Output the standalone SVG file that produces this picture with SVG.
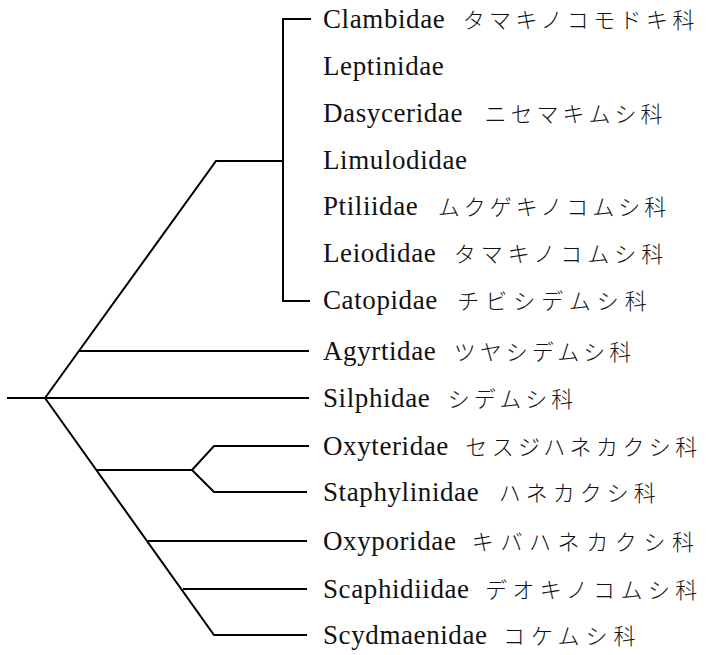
<svg xmlns="http://www.w3.org/2000/svg" width="708" height="655" viewBox="0 0 708 655">
<style>
.c{fill:none;stroke:#000;stroke-width:2;stroke-linejoin:miter}
.t{font-family:"Liberation Serif","Noto Sans CJK JP",serif;font-size:27px;fill:#111;letter-spacing:0.6px}
.j{font-family:"Noto Sans CJK JP",sans-serif;font-size:22px;letter-spacing:4px;font-weight:300}
</style>
<rect width="708" height="655" fill="#fff"/>
<g id="connectors">
<path class="c" d="M7,398 H45"/>
<path class="c" d="M45,398 L216,161 H283"/>
<path class="c" d="M311,19 H283 V301 H310"/>
<path class="c" d="M79,351 H309"/>
<path class="c" d="M45,398 H309"/>
<path class="c" d="M45,398 L214,635 H307"/>
<path class="c" d="M96,470 H192 L214,446 H309"/>
<path class="c" d="M192,470 L214,492 H307"/>
<path class="c" d="M148,541 H307"/>
<path class="c" d="M183,589 H307"/>
</g>
<g id="n-clambidae"><text class="t" x="323" y="28">Clambidae <tspan class="j" dx="10" style="letter-spacing:4.4px">タマキノコモドキ科</tspan></text></g>
<g id="n-leptinidae"><text class="t" x="323" y="75">Leptinidae</text></g>
<g id="n-dasyceridae"><text class="t" x="323" y="122">Dasyceridae <tspan class="j" dx="14">ニセマキムシ科</tspan></text></g>
<g id="n-limulodidae"><text class="t" x="323" y="169">Limulodidae</text></g>
<g id="n-ptiliidae"><text class="t" x="323" y="215">Ptiliidae <tspan class="j" dx="12">ムクゲキノコムシ科</tspan></text></g>
<g id="n-leiodidae"><text class="t" x="323" y="262">Leiodidae <tspan class="j" dx="10" style="letter-spacing:5px">タマキノコムシ科</tspan></text></g>
<g id="n-catopidae"><text class="t" x="323" y="309">Catopidae <tspan class="j" dx="12" style="letter-spacing:6px">チビシデムシ科</tspan></text></g>
<g id="n-agyrtidae"><text class="t" x="323" y="360">Agyrtidae <tspan class="j" dx="10">ツヤシデムシ科</tspan></text></g>
<g id="n-silphidae"><text class="t" x="323" y="407">Silphidae <tspan class="j" dx="10">シデムシ科</tspan></text></g>
<g id="n-oxyteridae"><text class="t" x="323" y="455">Oxyteridae <tspan class="j" dx="9" style="letter-spacing:4.4px">セスジハネカクシ科</tspan></text></g>
<g id="n-staphylinidae"><text class="t" x="323" y="501">Staphylinidae <tspan class="j" dx="12" style="letter-spacing:5px">ハネカクシ科</tspan></text></g>
<g id="n-oxyporidae"><text class="t" x="323" y="550">Oxyporidae <tspan class="j" dx="8" style="letter-spacing:6.6px">キバハネカクシ科</tspan></text></g>
<g id="n-scaphidiidae"><text class="t" x="323" y="598">Scaphidiidae <tspan class="j" dx="8" style="letter-spacing:5.4px">デオキノコムシ科</tspan></text></g>
<g id="n-scydmaenidae"><text class="t" x="323" y="644">Scydmaenidae <tspan class="j" dx="8" style="letter-spacing:6px">コケムシ科</tspan></text></g>
</svg>
